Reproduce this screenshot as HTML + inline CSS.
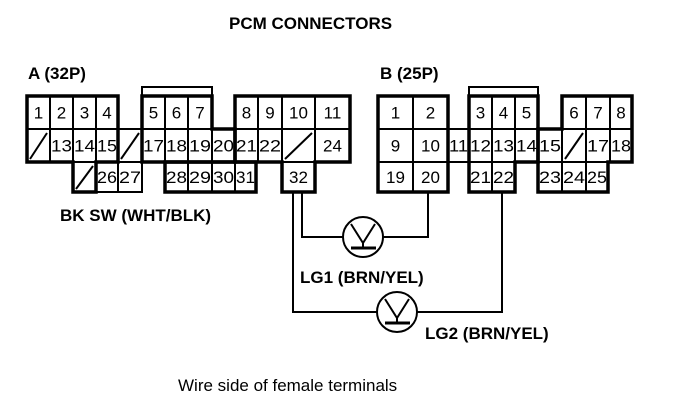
<!DOCTYPE html>
<html><head><meta charset="utf-8"><style>
body{margin:0;background:#fff;}
svg{display:block;}
text{font-family:"Liberation Sans",sans-serif;fill:#000;}
.c{fill:#fff;stroke:#000;stroke-width:2;}
.o{fill:none;stroke:#000;stroke-width:3.5;}
.n{font-size:17px;text-anchor:middle;}
.b{font-weight:bold;font-size:17px;}
</style></head><body>
<svg width="688" height="414" viewBox="0 0 688 414" xmlns="http://www.w3.org/2000/svg">
<text class="b" x="229" y="29">PCM CONNECTORS</text>
<text class="b" x="28" y="79">A (32P)</text>
<text class="b" x="380" y="79">B (25P)</text>
<g id="cells"></g>
<rect class="c" x="142" y="87" width="70" height="9"/>
<rect class="c" x="469" y="87" width="69" height="9"/>
<g id="outl"></g>
<g fill="none" stroke="#000" stroke-width="2">
<polyline points="293,192 293,312 377,312"/>
<polyline points="302,192 302,237 343,237"/>
<polyline points="383,237 428,237 428,192"/>
<polyline points="417,312 502,312 502,192"/>
<circle cx="363" cy="237" r="20"/>
<circle cx="397" cy="312" r="20"/>
<polyline points="351,224 363,243 375,224"/>
<line x1="363" y1="243" x2="363" y2="248"/>
<line x1="351" y1="248" x2="376" y2="248" stroke-width="3"/>
<polyline points="385,299 397,318 409,299"/>
<line x1="397" y1="318" x2="397" y2="323"/>
<line x1="385" y1="323" x2="410" y2="323" stroke-width="3"/>
</g>
<text class="b" x="60" y="221">BK SW (WHT/BLK)</text>
<text class="b" x="300" y="283">LG1 (BRN/YEL)</text>
<text class="b" x="425" y="339">LG2 (BRN/YEL)</text>
<text x="178" y="391" style="font-size:17px">Wire side of female terminals</text>
</svg>
<script>
const cells=[
[27,50,1,'1'],[50,73,1,'2'],[73,96,1,'3'],[96,118,1,'4'],[142,165,1,'5'],[165,188,1,'6'],[188,212,1,'7'],[235,258,1,'8'],[258,282,1,'9'],[282,315,1,'10'],[315,350,1,'11'],
[27,50,2,'/'],[50,73,2,'13'],[73,96,2,'14'],[96,118,2,'15'],[118,142,2,'/'],[142,165,2,'17'],[165,188,2,'18'],[188,212,2,'19'],[212,235,2,'20'],[235,258,2,'21'],[258,282,2,'22'],[282,315,2,'/'],[315,350,2,'24'],
[73,96,3,'/'],[96,118,3,'26'],[118,142,3,'27'],[165,188,3,'28'],[188,212,3,'29'],[212,235,3,'30'],[235,256,3,'31'],[282,315,3,'32'],
[378,413,1,'1'],[413,448,1,'2'],[469,492,1,'3'],[492,515,1,'4'],[515,538,1,'5'],[562,586,1,'6'],[586,610,1,'7'],[610,632,1,'8'],
[378,413,2,'9'],[413,448,2,'10'],[448,469,2,'11'],[469,492,2,'12'],[492,515,2,'13'],[515,538,2,'14'],[538,562,2,'15'],[562,586,2,'/'],[586,610,2,'17'],[610,632,2,'18'],
[378,413,3,'19'],[413,448,3,'20'],[469,492,3,'21'],[492,515,3,'22'],[538,562,3,'23'],[562,586,3,'24'],[586,608,3,'25']];
const ys={1:[96,129],2:[129,162],3:[162,192]};
let h='';
for(const [x1,x2,r,t] of cells){const [y1,y2]=ys[r];
h+=`<rect class="c" x="${x1}" y="${y1}" width="${x2-x1}" height="${y2-y1}"/>`;
if(t=='/'){h+=`<line x1="${x1+3}" y1="${y2-3}" x2="${x2-3}" y2="${y1+4}" stroke="#000" stroke-width="2"/>`;}
else{const w=x2-x1;const tl=(t.length>1&&w<30)?` textLength="${w-2}" lengthAdjust="spacingAndGlyphs"`:'';
h+=`<text class="n" x="${(x1+x2)/2}" y="${y1+(y2-y1)/2+6}"${tl}>${t}</text>`;}}
document.getElementById('cells').innerHTML=h;
const o=[
'27,96 118,96 118,162 96,162 96,192 73,192 73,162 27,162 27,96',
'142,96 212,96 212,129 235,129 235,162 142,162 142,96',
'165,162 256,162 256,192 165,192 165,162',
'235,96 350,96 350,162 315,162 315,192 282,192 282,162 235,162 235,96',
'378,96 448,96 448,192 378,192 378,96',
'469,96 538,96 538,162 515,162 515,192 469,192 469,96',
'562,96 632,96 632,162 608,162 608,192 538,192 538,129 562,129 562,96'];
document.getElementById('outl').innerHTML=o.map(p=>`<polygon class="o" points="${p}"/>`).join('');
</script>
</body></html>
